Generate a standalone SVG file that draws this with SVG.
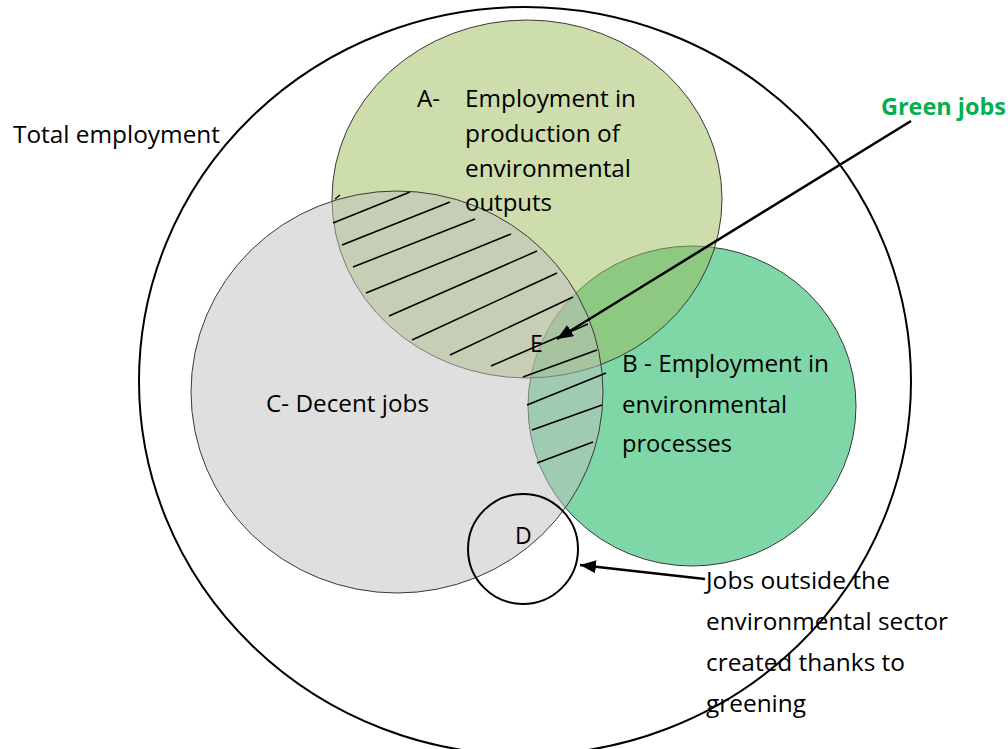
<svg xmlns="http://www.w3.org/2000/svg" width="1008" height="749" viewBox="0 0 1008 749">
<style>
.lbl{font-family:"Open Sans","Liberation Sans",sans-serif;font-size:23px;fill:#000}
.green{font-family:"Open Sans","Liberation Sans",sans-serif;font-size:23px;font-weight:bold;fill:#00B050}
.set{stroke:#3a3a3a;stroke-width:1;fill-opacity:0.5}
.hatch line{stroke:#000;stroke-width:1.5}
.conn{stroke:#000;stroke-width:2.5;fill:none}
</style>
<defs>
<marker id="arr" markerUnits="userSpaceOnUse" markerWidth="18" markerHeight="14" refX="16" refY="6.5" orient="auto">
<path d="M0,0 L16,6.5 L0,13 z" fill="#000"/>
</marker>
</defs>
<rect width="1008" height="749" fill="#fff"/>
<g id="node-total">
<ellipse cx="525" cy="381" rx="386" ry="374" fill="none" stroke="#000" stroke-width="2"/>
<text class="lbl" x="13" y="143" textLength="207" lengthAdjust="spacingAndGlyphs">Total employment</text>
</g>
<g id="node-B">
<ellipse class="set" cx="692" cy="406" rx="164" ry="160" fill="#00B050"/>
</g>
<g id="node-A">
<ellipse class="set" cx="527" cy="199" rx="195" ry="179" fill="#9BBB59"/>
</g>
<g id="node-C">
<ellipse class="set" cx="397" cy="392" rx="206" ry="201" fill="#BFBFBF"/>
</g>
<g id="hatching" class="hatch">
<line x1="335" y1="199" x2="340" y2="195"/>
<line x1="333" y1="223" x2="410" y2="192"/>
<line x1="342" y1="245" x2="450" y2="202"/>
<line x1="353" y1="267" x2="475" y2="219"/>
<line x1="366" y1="293" x2="511" y2="234"/>
<line x1="389" y1="316" x2="537" y2="251"/>
<line x1="412" y1="340" x2="557" y2="273"/>
<line x1="450" y1="355" x2="573" y2="297"/>
<line x1="491" y1="366" x2="588" y2="324"/>
<line x1="523" y1="377" x2="597" y2="350"/>
<line x1="527" y1="405" x2="606" y2="373"/>
<line x1="532" y1="430" x2="602" y2="405"/>
<line x1="537" y1="463" x2="593" y2="442"/>
</g>
<g id="node-D">
<circle cx="523" cy="549" r="55" fill="none" stroke="#000" stroke-width="2"/>
<text class="lbl" x="515" y="544">D</text>
</g>
<g id="label-A">
<text class="lbl" x="417" y="107" textLength="23" lengthAdjust="spacingAndGlyphs">A-</text>
<text class="lbl" x="465" y="107" textLength="171" lengthAdjust="spacingAndGlyphs">Employment in</text>
<text class="lbl" x="465" y="142" textLength="155" lengthAdjust="spacingAndGlyphs">production of</text>
<text class="lbl" x="465" y="176.5" textLength="166" lengthAdjust="spacingAndGlyphs">environmental</text>
<text class="lbl" x="465" y="211" textLength="87" lengthAdjust="spacingAndGlyphs">outputs</text>
</g>
<g id="label-B">
<text class="lbl" x="622" y="372" textLength="207" lengthAdjust="spacingAndGlyphs">B - Employment in</text>
<text class="lbl" x="622" y="412.5" textLength="165" lengthAdjust="spacingAndGlyphs">environmental</text>
<text class="lbl" x="622" y="452" textLength="110" lengthAdjust="spacingAndGlyphs">processes</text>
</g>
<g id="label-C">
<text class="lbl" x="266" y="412" textLength="163" lengthAdjust="spacingAndGlyphs">C- Decent jobs</text>
</g>
<g id="node-E">
<text class="lbl" x="530" y="351.5">E</text>
</g>
<g id="node-green-jobs">
<text class="green" x="881" y="115" textLength="125" lengthAdjust="spacingAndGlyphs">Green jobs</text>
</g>
<g id="node-outside">
<text class="lbl" x="706" y="589" textLength="184" lengthAdjust="spacingAndGlyphs">Jobs outside the</text>
<text class="lbl" x="706" y="630" textLength="242" lengthAdjust="spacingAndGlyphs">environmental sector</text>
<text class="lbl" x="706" y="671" textLength="199" lengthAdjust="spacingAndGlyphs">created thanks to</text>
<text class="lbl" x="706" y="711.5" textLength="100" lengthAdjust="spacingAndGlyphs">greening</text>
</g>
<g id="connectors">
<line class="conn" x1="911" y1="121" x2="557" y2="339" marker-end="url(#arr)"/>
<line class="conn" x1="705" y1="579" x2="580" y2="565" marker-end="url(#arr)"/>
</g>
</svg>
